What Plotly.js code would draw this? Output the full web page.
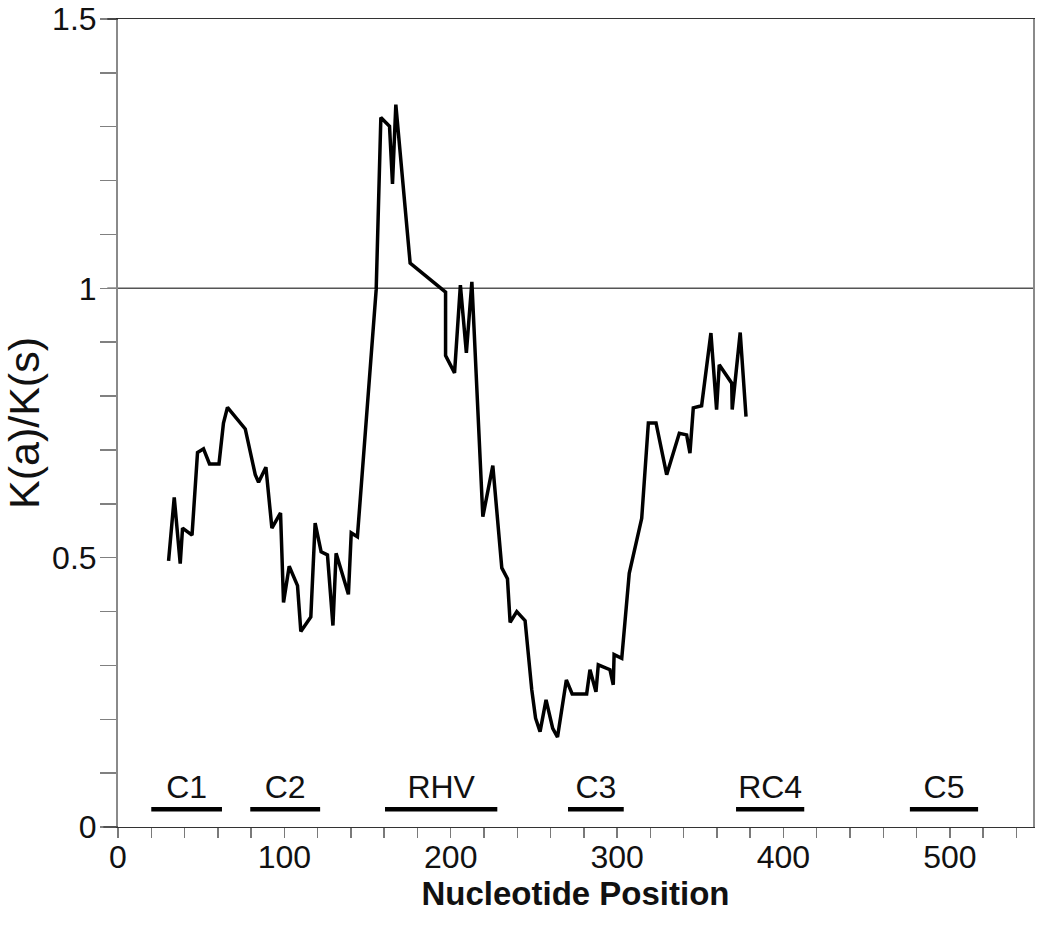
<!DOCTYPE html>
<html>
<head>
<meta charset="utf-8">
<script src="https://cdn.plot.ly/plotly-3.0.1.min.js"></script>
<style>html,body{margin:0;padding:0;background:#fff;}#chart{width:1038px;height:928px;}</style>
</head>
<body>
<div id="chart"></div>
<script>
// Nucleotide position (x) and K(a)/K(s) ratio (y)
const positions = [30.4,33.8,37.4,38.8,44.5,47.8,51.4,55.0,60.7,63.4,
  65.8,76.5,82.5,84.5,88.9,92.5,97.7,99.5,102.9,107.9,
  109.9,115.9,118.5,122.1,125.9,129.2,131.1,138.5,140.2,143.9,
  155.2,158.0,163.2,165.0,167.0,175.6,196.9,196.9,202.3,205.8,
  209.4,212.7,219.3,225.3,230.7,234.1,235.7,239.7,244.7,246.2,
  248.7,251.0,253.7,257.3,261.3,264.2,269.5,273.0,281.7,283.7,
  287.3,288.7,295.7,297.7,298.2,302.8,307.3,314.8,318.8,323.4,
  329.8,337.4,341.8,343.8,345.8,350.8,356.4,359.8,361.4,368.9,
  369.2,374.0,377.5];
const ratio = [0.494,0.612,0.489,0.555,0.542,0.695,0.702,0.674,0.674,0.750,
  0.779,0.739,0.654,0.640,0.668,0.555,0.583,0.417,0.484,0.448,
  0.363,0.390,0.564,0.511,0.505,0.374,0.508,0.432,0.546,0.539,
  0.998,1.317,1.301,1.194,1.341,1.047,0.993,0.875,0.843,1.006,
  0.880,1.012,0.576,0.671,0.481,0.461,0.380,0.400,0.383,0.329,
  0.255,0.202,0.177,0.236,0.183,0.167,0.273,0.247,0.247,0.292,
  0.251,0.301,0.292,0.264,0.320,0.313,0.471,0.573,0.750,0.750,
  0.654,0.731,0.728,0.694,0.778,0.782,0.917,0.775,0.858,0.824,
  0.775,0.918,0.762];

// Gene regions
const regionNames = ['C1','C2','RHV','C3','RC4','C5'];
const regionStart = [20, 79.5, 160.5, 270.5, 371.5, 476];
const regionEnd   = [62.5, 121.5, 228, 304, 412.5, 517];

// Axis ticks
const xTickVals = [0,100,200,300,400,500];
const xTickText = ['0','100','200','300','400','500'];
const yTickVals = [0,0.5,1,1.5];
const yTickText = ['0','0.5','1','1.5'];
const refValue = 1;

const FONT = 'Liberation Sans, Arial, sans-serif';
const BAR_Y = 0.033, LABEL_Y = 0.068;

const barX = [], barY = [];
regionNames.forEach((n,i)=>{ barX.push(regionStart[i], regionEnd[i], null); barY.push(BAR_Y, BAR_Y, null); });
const labX = regionNames.map((n,i)=>(regionStart[i]+regionEnd[i])/2);
const labY = regionNames.map(()=>LABEL_Y);

const traces = [
  {x: positions, y: ratio, type:'scatter', mode:'lines', line:{color:'#000', width:3.5}, hoverinfo:'x+y', showlegend:false},
  {x: barX, y: barY, type:'scatter', mode:'lines', line:{color:'#000', width:4.5}, hoverinfo:'skip', showlegend:false},
  {x: labX, y: labY, text: regionNames, type:'scatter', mode:'text', textposition:'middle center',
   textfont:{family:FONT, size:32, color:'#111'}, hoverinfo:'skip', showlegend:false}
];

const layout = {
  width:1038, height:928,
  margin:{l:118, r:5, t:19, b:101, pad:0},
  paper_bgcolor:'#fff', plot_bgcolor:'#fff',
  showlegend:false,
  xaxis:{
    range:[0,550], tickvals:xTickVals, ticktext:xTickText,
    ticks:'outside', ticklen:10, tickwidth:1.5, tickcolor:'#7a7a7a',
    minor:{dtick:20, tick0:0, ticks:'outside', ticklen:10, tickwidth:1.5, tickcolor:'#7a7a7a'},
    showline:true, linecolor:'#333', linewidth:1.2, mirror:true,
    showgrid:false, zeroline:false,
    tickfont:{family:FONT, size:32, color:'#111'},
    ticklabelstandoff:-9,
    title:{text:'Nucleotide Position', font:{family:FONT, size:33, color:'#111', weight:'bold'}, standoff:0}
  },
  yaxis:{
    range:[0,1.5], tickvals:yTickVals, ticktext:yTickText,
    ticks:'outside', ticklen:16, tickwidth:1.5, tickcolor:'#808080',
    minor:{dtick:0.1, tick0:0, ticks:'outside', ticklen:16, tickwidth:1.5, tickcolor:'#808080'},
    showline:true, linecolor:'#8a8a8a', linewidth:2, mirror:true,
    showgrid:false, zeroline:false,
    tickfont:{family:FONT, size:32, color:'#111'},
    ticklabelstandoff:-3,
    title:{text:'K(a)/K(s)', font:{family:FONT, size:43, color:'#111'}, standoff:2}
  },
  shapes:[
    {type:'line', xref:'paper', yref:'y', x0:-0.0117, x1:1, y0:refValue, y1:refValue, line:{color:'#555', width:1.5}, layer:'below'},
    {type:'line', xref:'paper', yref:'paper', x0:-0.0117, x1:0, y0:1, y1:1, line:{color:'#222', width:1.2}},
    {type:'line', xref:'paper', yref:'paper', x0:-0.016, x1:0, y0:0, y1:0, line:{color:'#333', width:1.2}}
  ]
};

Plotly.newPlot('chart', traces, layout, {displayModeBar:false, staticPlot:true});
</script>
</body>
</html>
